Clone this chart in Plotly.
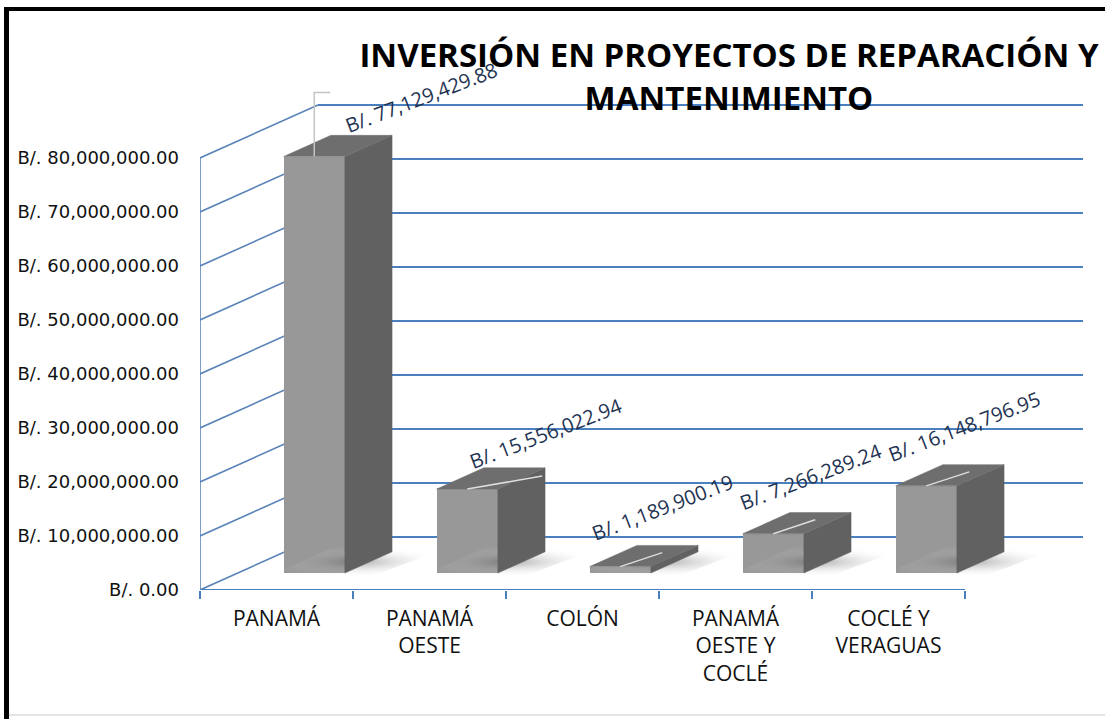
import plotly.graph_objects as go

# ---- data -------------------------------------------------------------
categories = ["PANAMÁ", "PANAMÁ<br>OESTE", "COLÓN",
              "PANAMÁ<br>OESTE Y<br>COCLÉ", "COCLÉ Y<br>VERAGUAS"]
inversion = [77129429.88, 15556022.94, 1189900.19, 7266289.24, 16148796.95]
y_ticks = [0, 10e6, 20e6, 30e6, 40e6, 50e6, 60e6, 70e6, 80e6]
y_tick_text = [f"B/. {v:,.2f}" for v in y_ticks]
title_text = "INVERSIÓN EN PROYECTOS DE REPARACIÓN Y<br>MANTENIMIENTO"

# ---- page / projection geometry ----------------------------------------
W, H = 1105, 719
PLOT_L, PLOT_R, PLOT_T, PLOT_B = 200, 1084, 0, 590
PX_PER_CAT = 153.0            # pixels per category slot on the front edge
PX_PER_VAL = 54.0 / 10e6      # pixels per balboa
X_MAX = (PLOT_R - PLOT_L) / PX_PER_CAT
Y_MAX = (PLOT_B - PLOT_T) / PX_PER_VAL

# oblique depth: full floor depth moves 118 px right and 53 px up
DEPTH_DU = 118.0 / PX_PER_CAT
DEPTH_DV = 53.0 / PX_PER_VAL
BAR_FRONT, BAR_BACK = 0.32, 0.72   # bar depth span (fraction of floor depth)
BAR_W = 0.40

GRID = "#4A80C0"
WALL = "#5A84B8"
FRONT = "#989898"
SIDE = "#616161"
TOP = "#6e6e6e"
LABEL = "#1F3352"


def proj(u, v, d):
    return u + d * DEPTH_DU, v + d * DEPTH_DV


def px_u(px):
    return px / PX_PER_CAT


def px_v(px):
    return px / PX_PER_VAL


def paper_x(px):
    return (px - PLOT_L) / (PLOT_R - PLOT_L)


def paper_y(py):
    return (PLOT_B - py) / (PLOT_B - PLOT_T)


fig = go.Figure()
shapes = []

# left side wall and back wall lines at every axis level
for v in y_ticks:
    x0, y0 = proj(0, v, 0)
    x1, y1 = proj(0, v, 1)
    shapes.append(dict(type="line", xref="x", yref="y", x0=x0, y0=y0, x1=x1, y1=y1,
                       line=dict(color=WALL, width=1.6), layer="below"))
    x2, _ = proj(len(categories), v, 1)
    shapes.append(dict(type="line", xref="x", yref="y", x0=x1, y0=y1, x1=x2, y1=y1,
                       line=dict(color=GRID, width=2), layer="below"))
# front vertical edge of the side wall
shapes.append(dict(type="line", xref="x", yref="y", x0=0, y0=0, x1=0, y1=y_ticks[-1],
                   line=dict(color=WALL, width=1.6), layer="below"))
# front floor edge
shapes.append(dict(type="line", xref="x", yref="y", x0=0, y0=0, x1=len(categories), y1=0,
                   line=dict(color=GRID, width=2), layer="below"))

# soft floor shadows behind the bars
for k, val in enumerate(inversion):
    c = k + 0.5
    xs, ys = [], []
    for (u, d) in [(c - BAR_W / 2 - 0.05, BAR_FRONT - 0.08), (c + BAR_W / 2 + 0.22, BAR_FRONT - 0.08),
                   (c + BAR_W / 2 + 0.3, BAR_BACK + 0.1), (c - BAR_W / 2 - 0.05, BAR_BACK + 0.1)]:
        x, y = proj(u, 0, d)
        xs.append(x)
        ys.append(y)
    fig.add_trace(go.Scatter(
        x=xs + [xs[0]], y=ys + [ys[0]], fill="toself", mode="none",
        fillgradient=dict(type="radial",
                          colorscale=[[0, "rgba(80,80,80,0.45)"], [1, "rgba(255,255,255,0)"]]),
        hoverinfo="skip", showlegend=False))

# side and top faces of each bar
for k, val in enumerate(inversion):
    c = k + 0.5
    r = c + BAR_W / 2
    l = c - BAR_W / 2
    side = [proj(r, 0, BAR_FRONT), proj(r, val, BAR_FRONT),
            proj(r, val, BAR_BACK), proj(r, 0, BAR_BACK)]
    top = [proj(l, val, BAR_FRONT), proj(r, val, BAR_FRONT),
           proj(r, val, BAR_BACK), proj(l, val, BAR_BACK)]
    for pts, col in [(side, SIDE), (top, TOP)]:
        xs = [p[0] for p in pts] + [pts[0][0]]
        ys = [p[1] for p in pts] + [pts[0][1]]
        fig.add_trace(go.Scatter(x=xs, y=ys, fill="toself", fillcolor=col, mode="lines",
                                 line=dict(color=col, width=0.5),
                                 hoverinfo="skip", showlegend=False))

# front faces
fig.add_trace(go.Bar(
    x=[k + 0.5 + BAR_FRONT * DEPTH_DU for k in range(len(categories))],
    y=inversion,
    base=[BAR_FRONT * DEPTH_DV] * len(inversion),
    width=BAR_W,
    marker=dict(color=FRONT, line=dict(width=0)),
    hoverinfo="skip", showlegend=False,
))

# leader lines from the bar tops towards their labels
ft = [(k + 0.5 + BAR_FRONT * DEPTH_DU, val + BAR_FRONT * DEPTH_DV)
      for k, val in enumerate(inversion)]
fig.add_trace(go.Scatter(
    x=[ft[0][0], ft[0][0], ft[0][0] + px_u(16)],
    y=[ft[0][1], ft[0][1] + px_v(64), ft[0][1] + px_v(64)],
    mode="lines", line=dict(color="#c4c4c4", width=1.5),
    hoverinfo="skip", showlegend=False))
leader_end = [None, (75, 13), (42, 14), (42, 14), (43, 14)]
for (x, y), e in zip(ft, leader_end):
    if e is None:
        continue
    fig.add_trace(go.Scatter(x=[x, x + px_u(e[0])], y=[y, y + px_v(e[1])],
                             mode="lines", line=dict(color="#dcdcdc", width=1.5),
                             hoverinfo="skip", showlegend=False))

# value labels
label_shift = [(107, 59), (78, 56), (42, 59), (38, 57), (38, 59)]
annotations = []
for (x, y), val, (dx, dy) in zip(ft, inversion, label_shift):
    annotations.append(dict(
        x=x, y=y, xref="x", yref="y", xshift=dx, yshift=dy,
        text=f"B/. {val:,.2f}", showarrow=False, textangle=-21,
        font=dict(family="Open Sans", size=20, color=LABEL),
    ))

# outer frame
shapes += [
    dict(type="line", xref="paper", yref="paper",
         x0=paper_x(6.5), x1=paper_x(6.5), y0=paper_y(7), y1=paper_y(H),
         line=dict(color="black", width=5)),
    dict(type="line", xref="paper", yref="paper",
         x0=paper_x(4), x1=paper_x(W), y0=paper_y(9), y1=paper_y(9),
         line=dict(color="black", width=4)),
    dict(type="line", xref="paper", yref="paper",
         x0=paper_x(9), x1=paper_x(W), y0=paper_y(715), y1=paper_y(715),
         line=dict(color="#e4e4e4", width=2)),
]

fig.update_layout(
    width=W, height=H,
    margin=dict(l=PLOT_L, r=W - PLOT_R, t=PLOT_T, b=H - PLOT_B),
    paper_bgcolor="white", plot_bgcolor="white",
    title=dict(text=title_text, x=729 / W, xanchor="center",
               y=1 - 67 / H, yanchor="top", yref="container",
               font=dict(family="Open Sans", size=33, color="black", weight="bold")),
    xaxis=dict(range=[0, X_MAX], showgrid=False, zeroline=False, showline=False,
               tickmode="array", tickvals=[k + 0.5 for k in range(len(categories))],
               ticktext=categories, ticks="", ticklabelstandoff=14,
               tickfont=dict(family="Open Sans", size=21, color="#111111"),
               minor=dict(tickmode="array", tickvals=list(range(len(categories) + 1)),
                          ticks="outside", ticklen=8, tickcolor=GRID, tickwidth=1.5)),
    yaxis=dict(range=[0, Y_MAX], showgrid=False, zeroline=False, showline=False,
               tickmode="array", tickvals=y_ticks, ticktext=y_tick_text, ticks="",
               ticklabelstandoff=20,
               tickfont=dict(family="DejaVu Sans", size=18, color="#111111")),
    shapes=shapes,
    annotations=annotations,
    bargap=0,
)

fig.write_html("out.html")
